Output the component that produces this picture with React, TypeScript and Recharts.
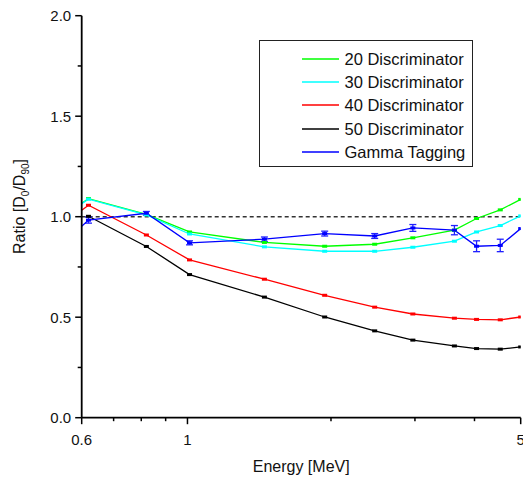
import React from 'react';
import { LineChart, Line, XAxis, YAxis, ReferenceLine, ErrorBar, Legend } from 'recharts';

const energy = [0.6, 0.62, 0.82, 1.01, 1.45, 1.94, 2.47, 2.97, 3.63, 4.04, 4.53, 5.0];
const disc20 = [1.067, 1.09, 1.011, 0.924, 0.872, 0.853, 0.863, 0.895, 0.933, 0.991, 1.034, 1.086];
const disc30 = [1.065, 1.087, 1.009, 0.914, 0.85, 0.828, 0.828, 0.848, 0.878, 0.924, 0.956, 1.004];
const disc40 = [1.032, 1.057, 0.909, 0.785, 0.689, 0.609, 0.55, 0.516, 0.495, 0.489, 0.487, 0.501];
const disc50 = [null, 1.002, 0.852, 0.712, 0.6, 0.501, 0.432, 0.386, 0.357, 0.344, 0.341, 0.352];
const gamma = [0.953, 0.983, 1.017, 0.87, 0.888, 0.916, 0.904, 0.944, 0.933, 0.853, 0.857, 0.941];
const gammaErr = [0, 0.015, 0.009, 0.01, 0.011, 0.012, 0.012, 0.017, 0.023, 0.027, 0.031, 0];

const xTicks = [0.6, 0.7, 0.8, 0.9, 1, 2, 3, 4, 5];
const xMajor = [0.6, 1, 5];
const yTicks = [0, 0.25, 0.5, 0.75, 1, 1.25, 1.5, 1.75, 2];

const seriesKeys = ['d20', 'd30', 'd40', 'd50', 'gam'];
const seriesNames = ['20 Discriminator', '30 Discriminator', '40 Discriminator', '50 Discriminator', 'Gamma Tagging'];
const seriesColors = ['#00FF00', '#00FFFF', '#FF0000', '#000000', '#0000FF'];

const data = energy.map((e, i) => ({
  energy: e,
  d20: disc20[i],
  d30: disc30[i],
  d40: disc40[i],
  d50: disc50[i],
  gam: gamma[i],
  gamErr: gammaErr[i],
}));

const FONT = '"Liberation Sans", Arial, sans-serif';

const isYMajor = (v: number) => Math.abs(v * 2 - Math.round(v * 2)) < 1e-6;

const BottomTick = (p: any) => {
  const { x, y, payload } = p;
  const v = payload.value;
  const major = xMajor.includes(v);
  return (
    <g>
      <line x1={x} x2={x} y1={y} y2={y + (major ? 6.5 : 3.5)} stroke="#000" strokeWidth={1.5} />
      {major && (
        <text x={x} y={y + 27.3} textAnchor="middle" fontSize={15} fontFamily={FONT} fill="#111">
          {String(v)}
        </text>
      )}
    </g>
  );
};

const TopTick = (p: any) => {
  const { x, y, payload } = p;
  const major = xMajor.includes(payload.value);
  return <line x1={x} x2={x} y1={y} y2={y + (major ? 7.5 : 3.7)} stroke="#000" strokeWidth={1.5} />;
};

const LeftTick = (p: any) => {
  const { x, y, payload } = p;
  const v = payload.value;
  const major = isYMajor(v);
  return (
    <g>
      <line x1={x} x2={x - (major ? 6.5 : 4)} y1={y} y2={y} stroke="#000" strokeWidth={1.5} />
      {major && (
        <text x={x - 10.5} y={y + 5.3} textAnchor="end" fontSize={15} fontFamily={FONT} fill="#111">
          {v.toFixed(1)}
        </text>
      )}
    </g>
  );
};

const RightTick = (p: any) => {
  const { x, y, payload } = p;
  const major = isYMajor(payload.value);
  return <line x1={x} x2={x - (major ? 7.5 : 3.7)} y1={y} y2={y} stroke="#000" strokeWidth={1.5} />;
};

const makeDot = (color: string) => (p: any) => {
  const { cx, cy, index, value } = p;
  if (index === 0 || value == null || cx == null || cy == null) return <g key={`d${index}`} />;
  return <rect key={`d${index}`} x={cx - 2.5} y={cy - 1.5} width={5} height={3} fill={color} />;
};

const renderLegend = () => (
  <div
    style={{
      position: 'relative',
      width: 212,
      height: 125,
      border: '1.5px solid #222',
      background: '#fff',
      fontFamily: FONT,
      boxSizing: 'content-box',
    }}
  >
    {seriesNames.map((n, i) => (
      <div
        key={n}
        style={{ position: 'absolute', left: 0, top: Math.round(8 + i * 23.2), height: 20, width: 212 }}
      >
        <svg width={40} height={20} style={{ position: 'absolute', left: 41, top: 0 }}>
          <line x1={1} x2={38} y1={10} y2={10} stroke={seriesColors[i]} strokeWidth={1.5} />
        </svg>
        <div
          style={{
            position: 'absolute',
            left: 84.5,
            top: 0,
            fontSize: 16.5,
            lineHeight: '20px',
            color: '#111',
            whiteSpace: 'nowrap',
          }}
        >
          {n}
        </div>
      </div>
    ))}
  </div>
);

const YLabel = () => (
  <text
    x={25}
    y={206.5}
    textAnchor="middle"
    fontSize={16}
    fontFamily={FONT}
    fill="#111"
    transform="rotate(-90, 25, 206.5)"
  >
    Ratio [D
    <tspan fontSize={10} dy={4}>0</tspan>
    <tspan dy={-4}>/D</tspan>
    <tspan fontSize={10} dy={4}>90</tspan>
    <tspan dy={-4}>]</tspan>
  </text>
);

const XLabel = () => (
  <text x={301.2} y={472} textAnchor="middle" fontSize={16} fontFamily={FONT} fill="#111">
    Energy [MeV]
  </text>
);

export default function App() {
  return (
    <div style={{ position: 'absolute', left: 0, top: 0, width: 523, height: 478, background: '#fff' }}>
      <LineChart
        width={523}
        height={478}
        data={data}
        margin={{ top: 15.7, right: 2.3, left: 0, bottom: 0 }}
      >
        <XAxis
          dataKey="energy"
          type="number"
          scale="log"
          domain={[0.6, 5]}
          allowDataOverflow
          ticks={xTicks}
          interval={0}
          tickLine={false}
          tickSize={0}
          tickMargin={0}
          tick={(p: any) => <BottomTick {...p} />}
          axisLine={{ stroke: '#000', strokeWidth: 1.8 }}
          height={60.3}
          label={{ content: () => <XLabel /> }}
        />
        <XAxis
          xAxisId="top"
          dataKey="energy"
          orientation="top"
          type="number"
          scale="log"
          domain={[0.6, 5]}
          allowDataOverflow
          ticks={xTicks}
          interval={0}
          tickLine={false}
          tickSize={0}
          tickMargin={0}
          tick={(p: any) => <TopTick {...p} />}
          axisLine={{ stroke: '#000', strokeWidth: 1.8 }}
          height={0}
        />
        <YAxis
          type="number"
          domain={[0, 2]}
          allowDataOverflow
          ticks={yTicks}
          interval={0}
          tickLine={false}
          tickSize={0}
          tickMargin={0}
          tick={(p: any) => <LeftTick {...p} />}
          axisLine={{ stroke: '#000', strokeWidth: 1.8 }}
          width={81.7}
          label={{ content: () => <YLabel /> }}
        />
        <YAxis
          yAxisId="right"
          orientation="right"
          type="number"
          domain={[0, 2]}
          allowDataOverflow
          ticks={yTicks}
          interval={0}
          tickLine={false}
          tickSize={0}
          tickMargin={0}
          tick={(p: any) => <RightTick {...p} />}
          axisLine={{ stroke: '#000', strokeWidth: 1.8 }}
          width={0}
        />
        <ReferenceLine y={1} stroke="#333" strokeDasharray="4 3" strokeWidth={1.4} />
        {seriesKeys.map((k, i) => (
          <Line
            key={k}
            dataKey={k}
            name={seriesNames[i]}
            stroke={seriesColors[i]}
            strokeWidth={1.3}
            dot={makeDot(seriesColors[i])}
            activeDot={false}
            isAnimationActive={false}
            type="linear"
          >
            {k === 'gam' && (
              <ErrorBar dataKey="gamErr" width={3.5} stroke="#2020ff" strokeWidth={1.3} direction="y" />
            )}
          </Line>
        ))}
        <Legend
          layout="vertical"
          align="center"
          verticalAlign="middle"
          content={renderLegend}
          wrapperStyle={{ left: 259, top: 40, width: 215, height: 128 }}
        />
      </LineChart>
    </div>
  );
}
